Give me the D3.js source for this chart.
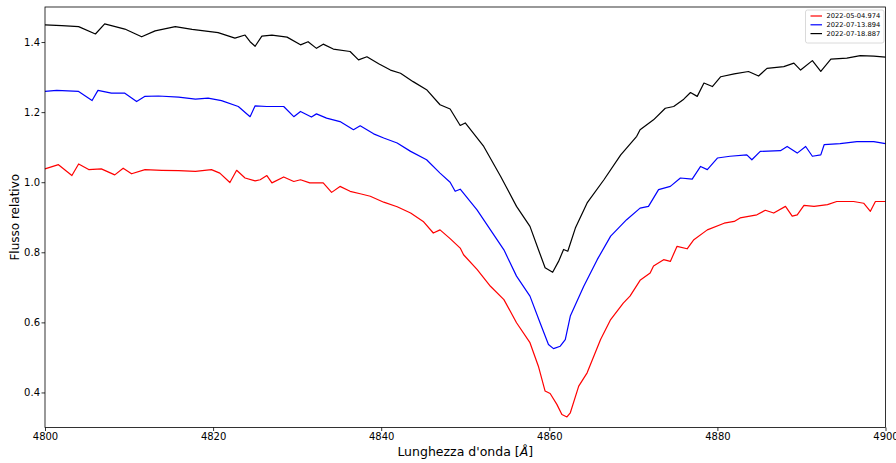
<!DOCTYPE html>
<html>
<head>
<meta charset="utf-8">
<script src="https://cdn.jsdelivr.net/npm/d3@7"></script>
<style>
    body { margin: 0; background: #fff; }
    text { font-family: "DejaVu Sans", sans-serif; }
</style>
</head>
<body>
<svg></svg>
<script>
// spectra (wavelength in Angstrom, relative flux)
const waveRed = [4800, 4801.6, 4803.2, 4804.0, 4805.2, 4806.7, 4808.3, 4809.3, 4810.3, 4811.9,
    4813.9, 4815.9, 4817.9, 4819.8, 4820.8, 4822.0, 4822.8, 4823.8, 4825.0, 4825.6,
    4826.4, 4827.0, 4828.4, 4829.6, 4830.4, 4831.5, 4833.1, 4834.1, 4835.1, 4836.3,
    4837.5, 4838.7, 4840.3, 4841.9, 4843.5, 4845.0, 4846.2, 4847.0, 4848.2, 4849.4,
    4849.8, 4851.4, 4853.0, 4854.6, 4856.1, 4857.7, 4858.7, 4859.5, 4860.1, 4860.9,
    4861.5, 4862.1, 4862.5, 4863.5, 4864.5, 4866.1, 4867.3, 4868.8, 4869.6, 4870.8,
    4872.0, 4872.4, 4873.6, 4874.4, 4875.2, 4876.4, 4877.2, 4878.8, 4880.8, 4882.0,
    4882.7, 4884.7, 4885.7, 4886.7, 4888.1, 4888.9, 4889.5, 4890.3, 4891.5, 4893.1,
    4894.2, 4896.2, 4897.4, 4898.2, 4898.8, 4900.0];
const fluxRed = [1.038, 1.05, 1.019, 1.052, 1.036, 1.038, 1.021, 1.04, 1.024, 1.036,
    1.034, 1.033, 1.031, 1.036, 1.026, 0.999, 1.034, 1.012, 1.004, 1.007,
    1.019, 0.998, 1.015, 1.002, 1.007, 0.998, 0.998, 0.971, 0.988, 0.974,
    0.967, 0.96, 0.943, 0.93, 0.912, 0.888, 0.855, 0.864, 0.839, 0.812,
    0.793, 0.751, 0.703, 0.665, 0.599, 0.542, 0.475, 0.404, 0.397, 0.366,
    0.337, 0.33, 0.342, 0.418, 0.456, 0.551, 0.608, 0.655, 0.675, 0.72,
    0.741, 0.761, 0.779, 0.774, 0.817, 0.81, 0.836, 0.864, 0.883, 0.888,
    0.898, 0.907, 0.92, 0.912, 0.931, 0.903, 0.907, 0.934, 0.931, 0.936,
    0.945, 0.945, 0.94, 0.917, 0.945, 0.945];

const waveBlue = [4800, 4801.4, 4804.0, 4805.6, 4806.3, 4807.9, 4809.5, 4810.9, 4811.9, 4813.5,
    4815.9, 4817.9, 4819.4, 4821.0, 4823.0, 4824.4, 4825.0, 4826.4, 4828.4, 4829.6,
    4830.4, 4831.7, 4832.3, 4833.5, 4835.1, 4836.7, 4837.5, 4839.1, 4840.3, 4841.9,
    4843.5, 4845.4, 4847.0, 4848.2, 4848.8, 4849.4, 4851.4, 4853.0, 4854.6, 4856.1,
    4857.7, 4858.9, 4859.9, 4860.5, 4861.3, 4861.9, 4862.5, 4864.1, 4865.7, 4867.3,
    4869.2, 4870.8, 4871.8, 4873.0, 4874.4, 4875.6, 4877.0, 4878.0, 4878.8, 4880.0,
    4881.5, 4883.5, 4884.1, 4885.1, 4887.5, 4888.3, 4889.5, 4890.5, 4891.3, 4892.3,
    4892.7, 4894.6, 4896.6, 4898.6, 4900.0];
const fluxBlue = [1.259, 1.262, 1.259, 1.233, 1.262, 1.254, 1.254, 1.23, 1.245, 1.246,
    1.243, 1.237, 1.24, 1.233, 1.216, 1.187, 1.218, 1.216, 1.216, 1.187,
    1.202, 1.186, 1.195, 1.183, 1.173, 1.15, 1.161, 1.138, 1.126, 1.112,
    1.088, 1.064, 1.026, 1.0, 0.974, 0.98, 0.921, 0.864, 0.807, 0.732,
    0.675, 0.599, 0.537, 0.525, 0.532, 0.551, 0.618, 0.703, 0.779, 0.846,
    0.893, 0.926, 0.931, 0.979, 0.988, 1.012, 1.009, 1.045, 1.036, 1.069,
    1.074, 1.078, 1.064, 1.088, 1.09, 1.102, 1.083, 1.102, 1.074, 1.078,
    1.107, 1.11, 1.116, 1.116, 1.11];

const waveBlack = [4800, 4802.0, 4804.0, 4806.0, 4807.1, 4809.5, 4811.5, 4813.1, 4815.5, 4817.5,
    4820.6, 4822.6, 4823.8, 4824.4, 4825.0, 4825.8, 4827.0, 4828.8, 4830.4, 4831.3,
    4832.3, 4833.1, 4834.3, 4836.3, 4837.3, 4838.3, 4839.7, 4841.1, 4842.3, 4843.8,
    4845.4, 4847.0, 4848.2, 4849.4, 4850.0, 4852.2, 4854.2, 4856.1, 4857.7, 4858.7,
    4859.5, 4860.4, 4861.1, 4861.7, 4862.2, 4863.1, 4864.5, 4866.5, 4868.5, 4870.4,
    4870.8, 4872.4, 4873.8, 4874.8, 4876.0, 4876.8, 4877.6, 4878.4, 4879.4, 4880.4,
    4882.0, 4883.7, 4884.9, 4885.9, 4887.9, 4889.1, 4889.9, 4891.3, 4892.3, 4893.5,
    4895.4, 4897.0, 4898.6, 4900.0];
const fluxBlack = [1.449, 1.447, 1.444, 1.423, 1.452, 1.437, 1.415, 1.432, 1.444, 1.436,
    1.427, 1.411, 1.42, 1.401, 1.388, 1.417, 1.42, 1.414, 1.392, 1.401,
    1.382, 1.394, 1.38, 1.373, 1.349, 1.358, 1.338, 1.32, 1.311, 1.287,
    1.264, 1.221, 1.209, 1.162, 1.169, 1.102, 1.017, 0.931, 0.874, 0.808,
    0.756, 0.743, 0.774, 0.808, 0.803, 0.869, 0.941, 1.007, 1.078, 1.131,
    1.15, 1.178, 1.211, 1.216, 1.237, 1.256, 1.245, 1.283, 1.273, 1.301,
    1.309, 1.316, 1.303, 1.325, 1.33, 1.34, 1.32, 1.347, 1.316, 1.351,
    1.354, 1.361, 1.36, 1.357];

const seriesNames = ["2022-05-04.974", "2022-07-13.894", "2022-07-18.887"];
const seriesColors = ["#ff0000", "#0000ff", "#000000"];
const xTicks = [4800, 4820, 4840, 4860, 4880, 4900];
const yTicks = [0.4, 0.6, 0.8, 1.0, 1.2, 1.4];

const width = 896,
    height = 463;
const margin = { top: 7, right: 10.5, bottom: 35.5, left: 45 };

const series = [
    { name: seriesNames[0], color: seriesColors[0], x: waveRed, y: fluxRed },
    { name: seriesNames[1], color: seriesColors[1], x: waveBlue, y: fluxBlue },
    { name: seriesNames[2], color: seriesColors[2], x: waveBlack, y: fluxBlack },
];

const svg = d3.select("svg").attr("width", width).attr("height", height);

const xScale = d3
    .scaleLinear()
    .domain([4800, 4900])
    .range([margin.left, width - margin.right]);

const yScale = d3
    .scaleLinear()
    .domain([0.3, 1.5])
    .range([height - margin.bottom, margin.top]);

// lines
const line = d3
    .line()
    .x((d) => xScale(d[0]))
    .y((d) => yScale(d[1]));

const plot = svg.append("g");
series.forEach((s) => {
    plot.append("path")
        .datum(s.x.map((w, i) => [w, s.y[i]]))
        .attr("fill", "none")
        .attr("stroke", s.color)
        .attr("stroke-width", 1.2)
        .attr("stroke-linejoin", "round")
        .attr("d", line);
});

// axes
const xAxis = d3
    .axisBottom(xScale)
    .tickValues(xTicks)
    .tickFormat(d3.format("d"))
    .tickSizeInner(3.5)
    .tickSizeOuter(0)
    .tickPadding(2);

const yAxis = d3
    .axisLeft(yScale)
    .tickValues(yTicks)
    .tickFormat(d3.format(".1f"))
    .tickSizeInner(3.5)
    .tickSizeOuter(0)
    .tickPadding(1.5);

const gx = svg.append("g")
    .attr("transform", "translate(0," + (height - margin.bottom) + ")")
    .call(xAxis);
const gy = svg.append("g")
    .attr("transform", "translate(" + margin.left + ",0)")
    .call(yAxis);

[gx, gy].forEach((g) => {
    g.select(".domain").remove();
    g.selectAll(".tick line").attr("stroke", "#000").attr("stroke-width", 0.8);
    g.selectAll(".tick text")
        .attr("fill", "#000")
        .style("font-size", "10px")
        .style("font-family", "DejaVu Sans");
});

// frame
svg.append("rect")
    .attr("x", margin.left)
    .attr("y", margin.top)
    .attr("width", width - margin.left - margin.right)
    .attr("height", height - margin.top - margin.bottom)
    .attr("fill", "none")
    .attr("stroke", "#000")
    .attr("stroke-width", 0.8);

// axis labels
const xLabel = svg.append("text")
    .attr("x", (margin.left + width - margin.right) / 2)
    .attr("y", 456)
    .attr("text-anchor", "middle")
    .style("font-size", "12.5px");
xLabel.append("tspan").text("Lunghezza d'onda [");
xLabel.append("tspan").attr("font-style", "italic").text("Å");
xLabel.append("tspan").text("]");

svg.append("text")
    .attr("transform", "translate(19," + (margin.top + height - margin.bottom) / 2 + ") rotate(-90)")
    .attr("text-anchor", "middle")
    .style("font-size", "12px")
    .text("Flusso relativo");

// legend
const legend = svg.append("g").attr("transform", "translate(805.5,10)");
legend.append("rect")
    .attr("width", 78.5)
    .attr("height", 33)
    .attr("rx", 2)
    .attr("fill", "#fff")
    .attr("fill-opacity", 0.8)
    .attr("stroke", "#d0d0d0")
    .attr("stroke-width", 0.8);

series.forEach((s, i) => {
    const row = legend.append("g").attr("transform", "translate(0," + (6 + i * 8.8) + ")");
    row.append("line")
        .attr("x1", 5)
        .attr("x2", 16.5)
        .attr("stroke", s.color)
        .attr("stroke-width", 1.2);
    row.append("text")
        .attr("x", 21)
        .attr("y", 2.3)
        .style("font-size", "6.7px")
        .text(s.name);
});
</script>
</body>
</html>
